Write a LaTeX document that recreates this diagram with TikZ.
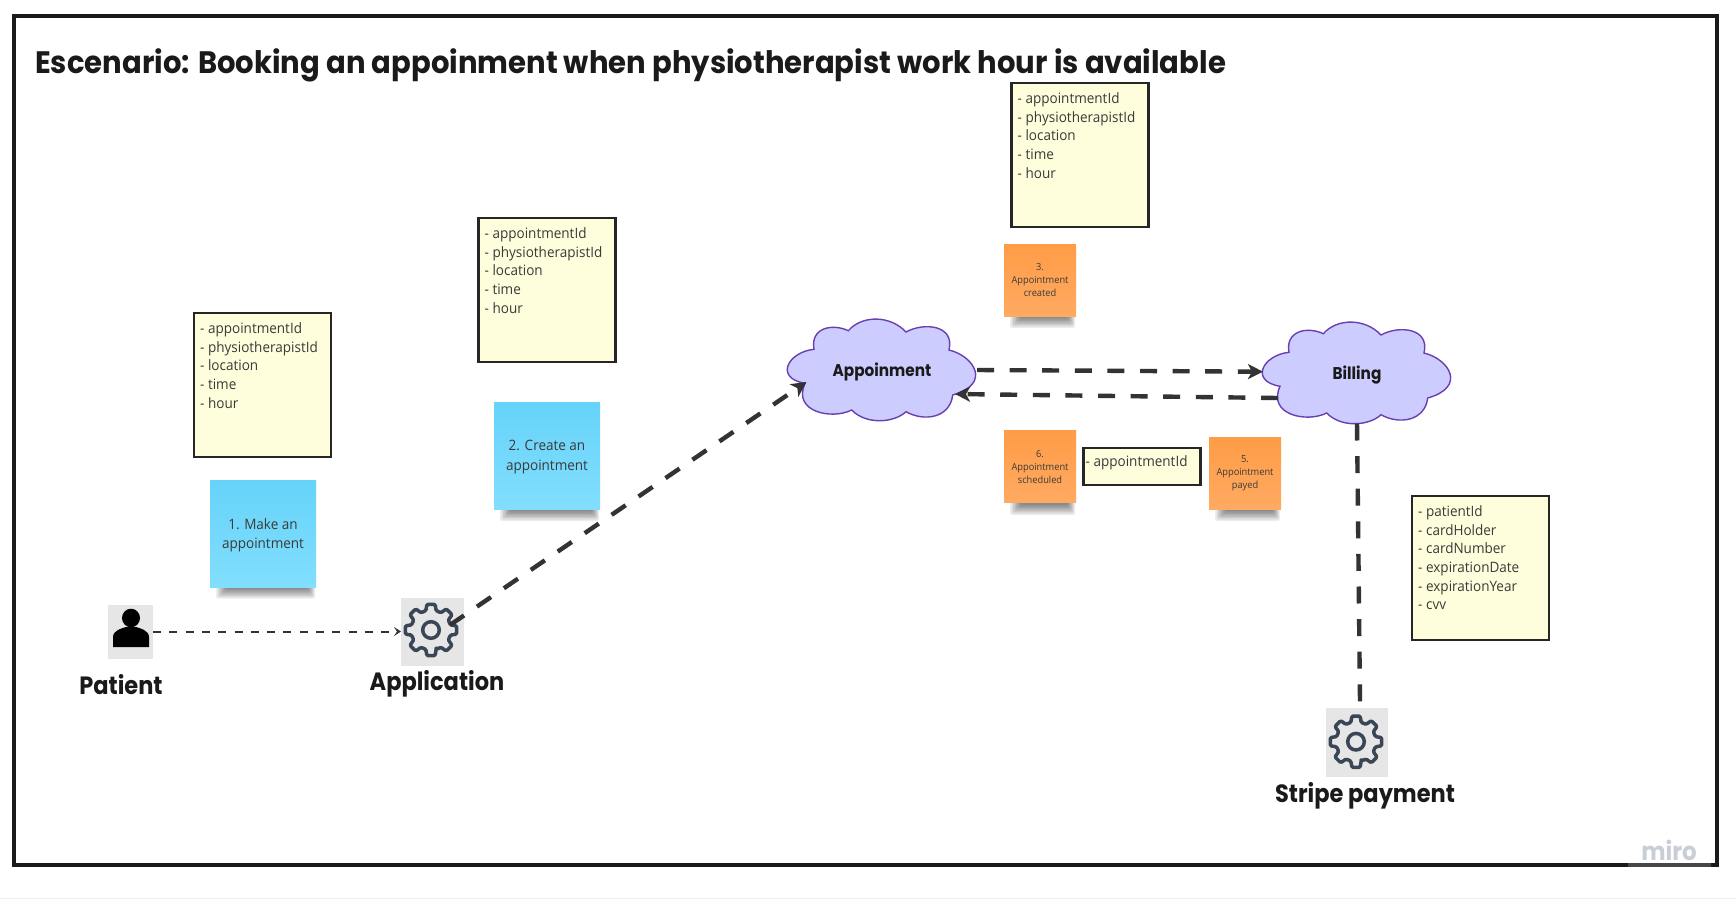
\documentclass[tikz,border=0pt]{standalone}
\usepackage{fontspec}
\setmainfont{Open Sans}
\newfontfamily\bodyfont[FakeStretch=0.945]{Open Sans}
\newfontfamily\headfont[FakeStretch=0.9]{Poppins}
\newfontfamily\titlefont[FakeStretch=0.938]{Poppins}
\usetikzlibrary{calc,arrows.meta}
\definecolor{framec}{HTML}{1A1A1A}
\definecolor{linec}{HTML}{333333}
\definecolor{boxline}{HTML}{262626}
\definecolor{yellowc}{HTML}{FFFEDC}
\definecolor{txtc}{HTML}{3A3A3A}
\definecolor{bluetop}{HTML}{66D3F9}
\definecolor{bluebot}{HTML}{82DEFD}
\definecolor{orangetop}{HTML}{FF9C46}
\definecolor{orangebot}{HTML}{FFAA62}
\definecolor{cloudfill}{HTML}{CCCCFF}
\definecolor{cloudline}{HTML}{6A3FB0}
\definecolor{gearc}{HTML}{3A4655}
\definecolor{iconbg}{HTML}{E6E6E6}
\definecolor{miroc}{HTML}{C9CED6}
\tikzset{
  yellowbox/.style={draw=boxline,line width=2.2pt,fill=yellowc,inner sep=0pt,outer sep=0pt},
  fieldtext/.style={anchor=north west,inner sep=0pt,align=left,text=txtc,font=\bodyfont\fontsize{14.3}{18.6}\selectfont},
  bluenote/.style={top color=bluetop,bottom color=bluebot,inner sep=0pt,outer sep=0pt,minimum width=106pt,minimum height=107pt},
  bluetext/.style={inner sep=0pt,align=center,text=txtc,font=\bodyfont\fontsize{14.3}{19.3}\selectfont},
  orangenote/.style={top color=orangetop,bottom color=orangebot,inner sep=0pt,outer sep=0pt,minimum width=72pt,minimum height=72pt,align=center,text=txtc,font=\bodyfont\fontsize{9.8}{13}\selectfont},
  iconbox/.style={fill=iconbg,inner sep=0pt,outer sep=0pt},
  heading/.style={inner sep=0pt,text=framec,font=\headfont\bfseries\fontsize{25}{30}\selectfont},
  cloudlabel/.style={inner sep=0pt,outer sep=0pt,minimum width=190pt,minimum height=102pt,text=framec,font=\headfont\bfseries\fontsize{17}{20}\selectfont},
  thinflow/.style={draw=linec,line width=2pt,dash pattern=on 8pt off 8.3pt,-{Stealth[length=7pt,width=9pt,inset=3pt]}},
  thickflow/.style={draw=linec,line width=4.4pt,dash pattern=on 17pt off 15.6pt,-{Stealth[length=15pt,width=15pt,inset=4pt]}},
  thickplain/.style={draw=linec,line width=4.4pt,dash pattern=on 17pt off 15.6pt},
  gearicon/.pic={
    \draw[gearc,line width=3.5pt,rounded corners=1.2pt,line join=round]
      (90-15:20) \foreach \a in {0,45,...,315} {
        -- (90+\a-15:20) -- (90+\a-9:26) -- (90+\a+9:26) -- (90+\a+15:20)
      } -- cycle;
    \draw[gearc,line width=3.5pt] (0,0) circle (8.3);
  },
  personicon/.pic={
    \fill[black] (0,-13) ellipse (9 and 9.3);
    \fill[black] (-18,16) -- (-18,6) .. controls (-18,-1) and (-8,-3) .. (-5,-4)
      -- (5,-4) .. controls (8,-3) and (18,-1) .. (18,6) -- (18,16) -- cycle;
  },
  cloudshape/.pic={
    \draw[fill=cloudfill,draw=cloudline,line width=1.4pt]
      (-77,13.3) .. controls (-108,8) and (-94,-18) .. (-68,-20.7)
      .. controls (-72,-42) and (-50,-47) .. (-33.7,-39.3)
      .. controls (-20,-55) and (8,-55) .. (24,-38)
      .. controls (42,-48) and (73,-45) .. (67,-20)
      .. controls (92,-14) and (110,14) .. (70.7,25)
      .. controls (68,48) and (42,52) .. (24,41.7)
      .. controls (12,53) and (-16,55) .. (-30.3,40)
      .. controls (-50,50) and (-90,42) .. (-77,13.3) -- cycle;
  },
  shadowhalf/.initial=53,
  noteshadow/.pic={
    \foreach \i in {0,...,7} {
      \fill[black,opacity=.07,rounded corners=2pt]
        ({-\pgfkeysvalueof{/tikz/shadowhalf}+6+1.5*\i},-2) rectangle ({\pgfkeysvalueof{/tikz/shadowhalf}-1-1.0*\i},{12-1.4*\i});
    }
  },
}
\begin{document}
\begin{tikzpicture}[x=1pt,y=-1pt]
\useasboundingbox (0,0) rectangle (1736,899);
\fill[white] (0,0) rectangle (1736,899);
\fill[black!6] (0,897.5) rectangle (1736,899);
% frame
\node[draw=framec,line width=4pt,inner sep=0pt,outer sep=0pt,minimum width=1703pt,minimum height=849pt] (frame) at (865.5,440.5) {};
\fill[white,opacity=.2] (1628,863) rectangle (1711,867);
\node[anchor=base west,inner sep=0pt,text=framec,font=\titlefont\bfseries\fontsize{31}{36}\selectfont] (title) at (35,74) {Escenario: Booking an appoinment when physiotherapist work hour is available};
% yellow boxes
\node[yellowbox,minimum width=137pt,minimum height=144pt] (boxa) at (262.5,385) {};
\node[fieldtext] (boxat) at ($(boxa.north west)+(6,9.6)$) {- appointmentId\\- physiotherapistId\\- location\\- time\\- hour};
\node[yellowbox,minimum width=137pt,minimum height=144pt] (boxb) at (547,290) {};
\node[fieldtext] (boxbt) at ($(boxb.north west)+(6,9.6)$) {- appointmentId\\- physiotherapistId\\- location\\- time\\- hour};
\node[yellowbox,minimum width=137pt,minimum height=144pt] (boxc) at (1080,155) {};
\node[fieldtext] (boxct) at ($(boxc.north west)+(6,9.6)$) {- appointmentId\\- physiotherapistId\\- location\\- time\\- hour};
\node[yellowbox,minimum width=137pt,minimum height=144pt] (boxd) at (1480.5,568) {};
\node[fieldtext] (boxdt) at ($(boxd.north west)+(6,9.6)$) {- patientId\\- cardHolder\\- cardNumber\\- expirationDate\\- expirationYear\\- cvv};
\node[yellowbox,minimum width=117pt,minimum height=37pt] (boxe) at (1142,466.5) {};
\node[fieldtext] (boxet) at ($(boxe.north west)+(2,7)$) {- appointmentId};
% sticky notes
\pic at (263,586.7) {noteshadow};
\node[bluenote] (note1) at (263,533.5) {};
\node[bluetext] (note1t) at ($(note1.center)+(0,2)$) {1. Make an\\appointment};
\pic at (547,509) {noteshadow};
\node[bluenote] (note2) at (547,455.5) {};
\node[bluetext] (note2t) at ($(note2.center)+(0,1.5)$) {2. Create an\\appointment};
\begin{scope}[shadowhalf=36]
\pic at (1040,316) {noteshadow};
\pic at (1040,503) {noteshadow};
\pic at (1245,509) {noteshadow};
\end{scope}
\node[orangenote] (note3) at (1040,280) {3.\\Appointment\\created};
\node[orangenote] (note6) at (1040,466.5) {6.\\Appointment\\scheduled};
\node[orangenote] (note5) at (1245,473) {5.\\Appointment\\payed};
% actors
\node[iconbox,minimum width=45pt,minimum height=54pt] (patient) at (130.5,631.5) {};
\pic at (131,631) {personicon};
\node[heading] (patientl) at (121,684.5) {Patient};
\node[iconbox,minimum width=63pt,minimum height=68pt] (app) at (432.5,631.5) {};
\pic at (431,630) {gearicon};
\node[heading] (appl) at (437,684) {Application};
\node[iconbox,minimum width=62pt,minimum height=69pt] (stripe) at (1357,742.5) {};
\pic at (1356,741.7) {gearicon};
\node[heading] (stripel) at (1365,795.5) {Stripe payment};
% clouds
\pic at (882,370) {cloudshape};
\node[cloudlabel] (appoin) at (882,372) {Appoinment};
\pic at (1357,373) {cloudshape};
\node[cloudlabel] (billing) at (1357,375) {Billing};
% named ends
\coordinate (appout) at ($(app.center)+(17.5,-6.5)$);
\coordinate (appoinin) at ($(appoin.center)+(-75.5,10)$);
\coordinate (appoinout) at ($(appoin.center)+(95,-2)$);
\coordinate (billingin) at ($(billing.center)+(-94,-3.3)$);
\coordinate (billingout) at ($(billing.center)+(-79,23)$);
\coordinate (appoinback) at ($(appoin.center)+(73,22)$);
\coordinate (billingdown) at ($(billing.south)+(0,-2.5)$);
\coordinate (stripeup) at ($(stripe.north)+(3,-6)$);
% connectors
\draw[thinflow] (patient.east) -- (app.west);
\draw[thickflow] (appout) -- (appoinin);
\draw[thickflow] (appoinout) -- (billingin);
\draw[thickflow] (billingout) -- (appoinback);
\draw[thickplain] (billingdown) -- (stripeup);
% logo
\node[anchor=base east,inner sep=0pt,text=miroc,font=\headfont\bfseries\fontsize{25.5}{28}\selectfont] (miro) at (1697,860) {miro};
\end{tikzpicture}
\end{document}
